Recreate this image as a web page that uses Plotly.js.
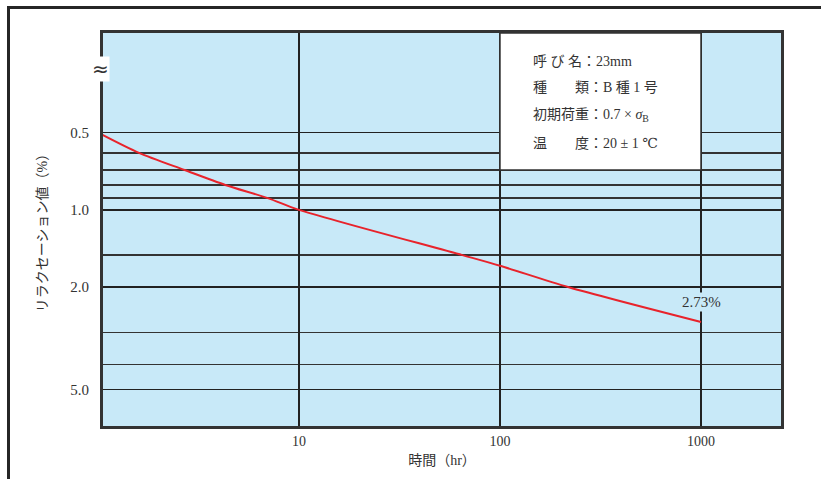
<!DOCTYPE html>
<html>
<head>
<meta charset="utf-8">
<script src="https://cdn.plot.ly/plotly-3.0.1.min.js"></script>
<style>
  html, body { margin: 0; padding: 0; background: #fff; }
  #frame { position: absolute; left: 7px; top: 6px; width: 830px; height: 490px;
           border-left: 3px solid #262626; border-top: 3px solid #262626; }
  #chart { position: absolute; left: 0; top: 0; width: 821px; height: 479px; }
</style>
</head>
<body>
<div id="frame"></div>
<div id="chart"></div>
<script>
// Data
const hours = [1, 1.6, 2.7, 4.3, 7, 10, 65, 100, 220, 1000];
const relaxation = [0.5, 0.6, 0.7, 0.8, 0.9, 1.0, 1.5, 1.65, 2.0, 2.73];

const xTickVals = [10, 100, 1000];
const xTickText = ['10', '100', '1000'];
const yTickVals = [0.5, 1.0, 2.0, 5.0];
const yTickText = ['0.5', '1.0', '2.0', '5.0'];
const yMinorVals = [0.6, 0.7, 0.8, 0.9, 1.5, 3.0, 4.0];

const infoLines = [
  '呼 び 名：23mm',
  '種　　類：B 種 1 号',
  '初期荷重：0.7 × <i>σ</i><sub>B</sub>',
  '温　　度：20 ± 1 ℃'
];

const FONT = '"Liberation Serif", "DejaVu Serif", "Noto Sans CJK JP", serif';
const TXT = '#333';

const trace = {
  x: hours, y: relaxation, type: 'scatter', mode: 'lines',
  line: { color: '#e8232b', width: 2, shape: 'spline', smoothing: 0.8 },
  hoverinfo: 'skip'
};

const annotations = [];
const infoY = [0.927, 0.861, 0.789, 0.72];
infoLines.forEach((t, i) => annotations.push({
  xref: 'paper', yref: 'paper', x: 0.631, y: infoY[i],
  xanchor: 'left', yanchor: 'middle', showarrow: false, text: t,
  font: { family: FONT, size: 14, color: TXT }
}));
const lastV = relaxation[relaxation.length - 1];
annotations.push({
  x: Math.log10(hours[hours.length - 1]), y: Math.log10(2.28),
  xref: 'x', yref: 'y', showarrow: false,
  text: lastV.toFixed(2) + '%', xanchor: 'center', yanchor: 'middle',
  bgcolor: '#c8e9f8', borderpad: 1,
  font: { family: FONT, size: 15, color: TXT }
});
annotations.push({
  xref: 'paper', yref: 'paper', x: -0.004, y: 0.908,
  xanchor: 'center', yanchor: 'middle', showarrow: false, text: '≈',
  bgcolor: '#ffffff', borderpad: 0,
  font: { family: '"DejaVu Sans", sans-serif', size: 20, color: TXT }
});

const layout = {
  width: 821, height: 479,
  margin: { l: 103, r: 40, t: 33, b: 53 },
  paper_bgcolor: 'rgba(0,0,0,0)',
  plot_bgcolor: '#c8e9f8',
  showlegend: false,
  font: { family: FONT, color: TXT, size: 14 },
  xaxis: {
    type: 'log', range: [Math.log10(1.06), Math.log10(2500)],
    tickmode: 'array', tickvals: xTickVals, ticktext: xTickText,
    ticks: '', showgrid: true, gridcolor: '#222', gridwidth: 1.5,
    showline: true, mirror: true, linecolor: '#333', linewidth: 3,
    zeroline: false, tickfont: { family: FONT, size: 14, color: TXT },
    title: { text: '時間（hr）', font: { family: FONT, size: 14, color: TXT }, standoff: 8 }
  },
  yaxis: {
    type: 'log', range: [0.841, -0.688],
    tickmode: 'array', tickvals: yTickVals, ticktext: yTickText,
    ticks: '', ticklabelstandoff: 8, showgrid: true, gridcolor: '#222', gridwidth: 1.5,
    minor: { tickmode: 'array', tickvals: yMinorVals, showgrid: true, gridcolor: '#333', gridwidth: 1.5, ticks: '' },
    showline: true, mirror: true, linecolor: '#333', linewidth: 3,
    zeroline: false, tickfont: { family: FONT, size: 15, color: TXT },
    title: { text: 'リラクセーション値（%）', font: { family: FONT, size: 14, color: TXT }, standoff: 20 }
  },
  shapes: [{
    type: 'rect', xref: 'x', yref: 'paper',
    x0: 100, x1: 1000, y0: (0.841 - Math.log10(0.7)) / (0.841 + 0.688), y1: 1,
    fillcolor: '#ffffff', line: { color: '#333', width: 1.5 }, layer: 'above'
  }],
  annotations: annotations
};

Plotly.newPlot('chart', [trace], layout, { displayModeBar: false, staticPlot: true });
</script>
</body>
</html>
